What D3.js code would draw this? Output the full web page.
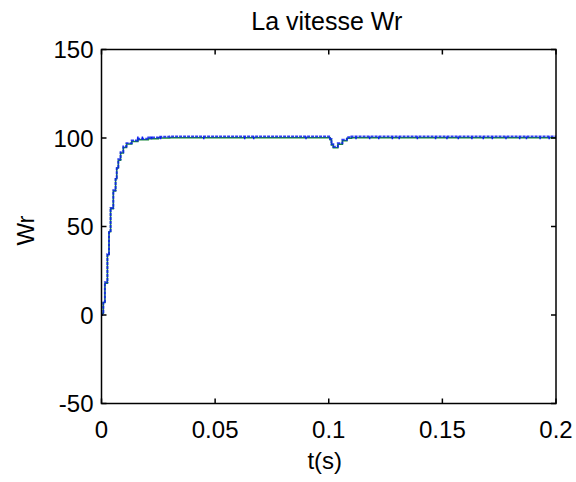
<!DOCTYPE html>
<html>
<head>
<meta charset="utf-8">
<script src="https://cdn.jsdelivr.net/npm/d3@7"></script>
<style>
  body { margin: 0; background: #fff; }
  svg { display: block; font-family: "Liberation Sans", Arial, sans-serif; }
</style>
</head>
<body>
<div id="chart"></div>
<script>
// sampled time (s)
const time = [0, 0.0003, 0.0008, 0.0015, 0.0026, 0.0033, 0.004, 0.0052, 0.0062, 0.0067,
  0.0074, 0.0084, 0.0096, 0.011, 0.0133, 0.016, 0.0206, 0.025, 0.03, 0.05,
  0.1, 0.1006, 0.1012, 0.102, 0.104, 0.106, 0.108, 0.11, 0.15, 0.2];
// measured speed (green)
const wrMeasured = [0, 1, 7, 18, 34, 47, 60, 70, 77, 83,
  87.5, 91.5, 94.7, 96.6, 98, 99, 99.6, 100, 100.2, 100.2,
  100.2, 99, 96, 94.5, 96.5, 98.5, 99.8, 100.2, 100.2, 100.2];
// estimated speed (blue)
const wrEstimated = [0, 1.5, 7.5, 18.5, 34.5, 47.5, 60.5, 70.5, 77.5, 83.5,
  88, 92, 95.2, 97.1, 98.6, 99.6, 100.3, 100.7, 100.8, 100.8,
  100.8, 99.5, 96.5, 95, 97, 99, 100.4, 100.8, 100.8, 100.8];
// small ripple dips on the blue trace
const rippleT = [0.016, 0.018, 0.022, 0.026, 0.045, 0.063, 0.067, 0.09, 0.112, 0.118,
  0.122, 0.128, 0.131, 0.139, 0.147, 0.152, 0.157, 0.163, 0.168, 0.172,
  0.178, 0.184, 0.187, 0.193, 0.197];
const xTicks = [0, 0.05, 0.1, 0.15, 0.2];
const yTicks = [-50, 0, 50, 100, 150];

const width = 576, height = 482;
const margin = { top: 49.5, right: 20, bottom: 78.5, left: 101.5 };
const fs = 24;

const x = d3.scaleLinear().domain([0, 0.2]).range([margin.left, width - margin.right]);
const y = d3.scaleLinear().domain([-50, 150]).range([height - margin.bottom, margin.top]);

const svg = d3.select("#chart").append("svg")
  .attr("width", width).attr("height", height)
  .attr("viewBox", [0, 0, width, height]);

svg.append("defs").append("clipPath").attr("id", "clip")
  .append("rect")
  .attr("x", margin.left).attr("y", margin.top)
  .attr("width", x(0.2) - margin.left).attr("height", y(-50) - margin.top);

const line = d3.line().x((d) => x(d[0])).y((d) => y(d[1])).curve(d3.curveStepAfter);
const plot = svg.append("g").attr("clip-path", "url(#clip)");

plot.append("path")
  .datum(time.map((t, i) => [t, wrMeasured[i]]))
  .attr("fill", "none").attr("stroke", "#1a8a3a").attr("stroke-width", 1.5)
  .attr("d", line);

plot.append("path")
  .datum(time.map((t, i) => [t, wrEstimated[i]]))
  .attr("fill", "none").attr("stroke", "#0a1cf0").attr("stroke-width", 2)
  .attr("stroke-dasharray", "3,1")
  .attr("opacity", 0.85)
  .attr("d", line);

plot.append("g").selectAll("line")
  .data(rippleT)
  .join("line")
  .attr("x1", (d) => x(d)).attr("x2", (d) => x(d))
  .attr("y1", y(100.8)).attr("y2", y(99.3))
  .attr("stroke", "#0a1cf0").attr("stroke-width", 1.5);

// axes box with inward ticks (MATLAB style)
const axisG = svg.append("g").attr("fill", "none").attr("stroke", "#000").attr("stroke-width", 1.5);
axisG.append("rect")
  .attr("x", margin.left).attr("y", margin.top)
  .attr("width", x(0.2) - margin.left).attr("height", y(-50) - margin.top);

const tl = 5;
xTicks.forEach((t) => {
  axisG.append("line").attr("x1", x(t)).attr("x2", x(t)).attr("y1", y(-50)).attr("y2", y(-50) - tl);
  axisG.append("line").attr("x1", x(t)).attr("x2", x(t)).attr("y1", y(150)).attr("y2", y(150) + tl);
});
yTicks.forEach((v) => {
  axisG.append("line").attr("x1", x(0)).attr("x2", x(0) + tl).attr("y1", y(v)).attr("y2", y(v));
  axisG.append("line").attr("x1", x(0.2)).attr("x2", x(0.2) - tl).attr("y1", y(v)).attr("y2", y(v));
});

svg.append("g").selectAll("text")
  .data(xTicks)
  .join("text")
  .attr("x", (d) => x(d)).attr("y", y(-50) + 34)
  .attr("text-anchor", "middle").attr("font-size", fs)
  .text((d) => d3.format("~g")(d));

svg.append("g").selectAll("text")
  .data(yTicks)
  .join("text")
  .attr("x", margin.left - 8).attr("y", (d) => y(d)).attr("dy", "0.36em")
  .attr("text-anchor", "end").attr("font-size", fs)
  .text((d) => d);

svg.append("text")
  .attr("x", (margin.left + x(0.2)) / 2 - 2).attr("y", 30)
  .attr("text-anchor", "middle").attr("font-size", 25)
  .text("La vitesse Wr");

svg.append("text")
  .attr("x", (margin.left + x(0.2)) / 2 - 4).attr("y", 469)
  .attr("text-anchor", "middle").attr("font-size", fs)
  .text("t(s)");

svg.append("text")
  .attr("transform", `translate(34,${(y(150) + y(-50)) / 2 + 4}) rotate(-90)`)
  .attr("text-anchor", "middle").attr("font-size", fs)
  .text("Wr");
</script>
</body>
</html>
